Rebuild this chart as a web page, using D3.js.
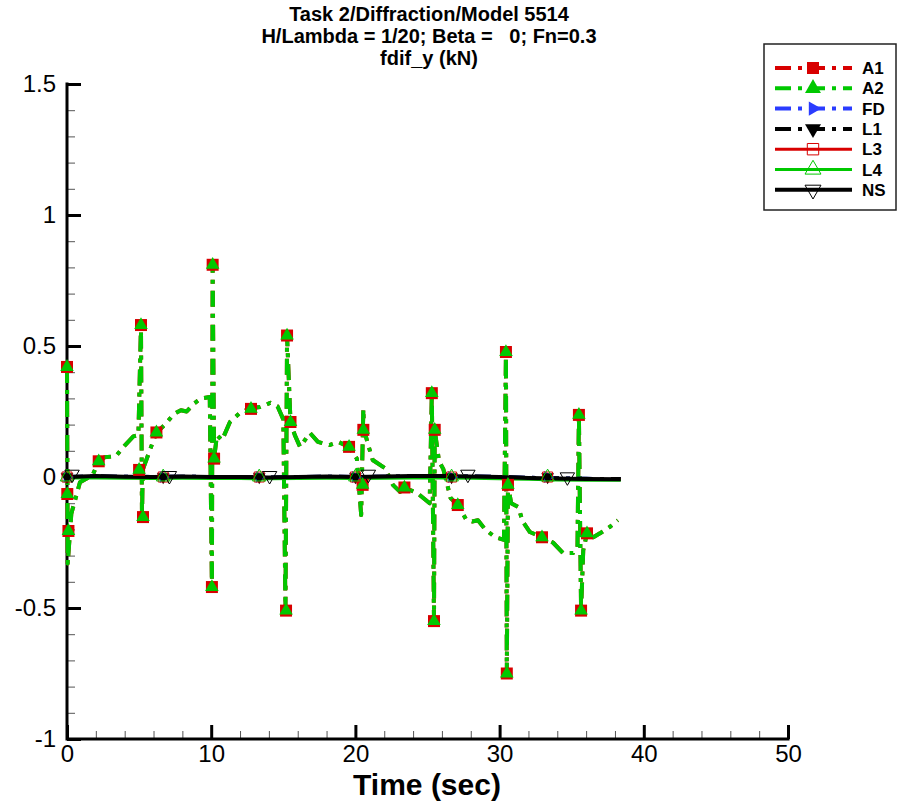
<!DOCTYPE html>
<html><head><meta charset="utf-8">
<script src="https://cdn.jsdelivr.net/npm/d3@7"></script>
<style>
html,body{margin:0;padding:0;background:#fff;}
text{font-family:"Liberation Sans",Arial,Helvetica,sans-serif;}
</style></head>
<body><svg id="c" width="901" height="805"></svg>
<script>
// ---------- DATA ----------
const titleLines = ["Task 2/Diffraction/Model 5514", "H/Lambda = 1/20; Beta =   0; Fn=0.3", "fdif_y (kN)"];
const xLabel = "Time (sec)";
const xMajorTicks = [0, 10, 20, 30, 40, 50];
const yMajorTicks = [-1, -0.5, 0, 0.5, 1, 1.5];
const yTickLabels = ["-1", "-0.5", "0", "0.5", "1", "1.5"];
const seriesNames = ["A1", "A2", "FD", "L1", "L3", "L4", "NS"];

// A1 / A2 (identical curves, A2 drawn on top)
const aTime = [0, 0.05, 0.3, 0.9, 1.4, 1.8, 2.2, 2.6, 3.4, 4.0, 4.6, 4.95, 5.13, 5.2, 5.25, 5.6, 6.2, 6.8, 7.4, 7.9, 8.3, 8.8, 9.3, 9.9,
  10.05, 10.1, 10.2, 10.4, 10.75, 11.3, 12.0, 12.76, 13.4, 14.1, 14.6, 15.0, 15.15, 15.26, 15.5, 15.8, 16.16, 16.85, 17.4, 18.2, 18.8, 19.56,
  20.1, 20.4, 20.55, 20.6, 20.9, 21.2, 22.05, 22.6, 23.1, 23.4, 24.3, 25.15, 25.3, 25.45, 25.5, 25.8, 26.1, 26.6, 27.1, 27.7, 28.1, 28.5, 29.0, 29.7,
  30.3, 30.44, 30.5, 30.58, 30.8, 31.3, 31.6, 32.1, 32.94, 33.7, 34.4, 35.1, 35.4, 35.5, 35.65, 35.8, 36.06, 36.5, 36.96, 37.66, 38.2];
const aValue = [0.42, -0.33, -0.14, -0.02, -0.005, 0.01, 0.06, 0.075, 0.08, 0.12, 0.155, 0.16, 0.58, -0.165, 0.027, 0.08, 0.17, 0.2, 0.24, 0.255, 0.25, 0.28, 0.3, 0.305,
  -0.42, 0.81, 0.07, 0.16, 0.14, 0.21, 0.245, 0.263, 0.267, 0.283, 0.27, 0.22, -0.51, 0.54, 0.21, 0.16, 0.115, 0.168, 0.134, 0.122, 0.134, 0.115,
  0.07, -0.145, 0.26, 0.18, 0.12, 0.065, 0.034, -0.03, -0.057, -0.04, -0.062, -0.1, 0.32, -0.55, 0.18, 0.06, 0.03, -0.08, -0.107, -0.164, -0.17, -0.165, -0.2, -0.23,
  -0.24, 0.477, -0.75, -0.03, -0.1, -0.115, -0.17, -0.21, -0.23, -0.25, -0.29, -0.29, -0.27, 0.237, -0.51, -0.28, -0.215, -0.23, -0.215, -0.19, -0.165];
const aMarkTime = [0, 0.02, 0.1, 2.2, 5.13, 5.0, 5.27, 6.2, 10.1, 10.2, 10.05, 12.76, 15.26, 15.5, 15.19, 19.56, 20.55, 20.5, 23.4, 25.3, 25.5, 25.45, 27.1, 30.44, 30.58, 30.5, 32.94, 35.5, 36.06, 35.65];
const aMarkValue = [0.42, -0.065, -0.206, 0.06, 0.58, 0.027, -0.153, 0.17, 0.81, 0.07, -0.42, 0.26, 0.54, 0.21, -0.51, 0.115, 0.18, -0.03, -0.04, 0.32, 0.18, -0.55, -0.107, 0.477, -0.03, -0.75, -0.23, 0.237, -0.215, -0.51];

// near-zero series
const flatTime = [0, 2, 4, 6, 8, 10, 12, 14, 16, 18, 20, 22, 24, 26, 28, 30, 32, 34, 36, 38.4];
const fdValue = [0.0, 0.002, 0.001, 0.0, 0.001, 0.0, 0.0, -0.002, 0.0, 0.001, 0.0, 0.001, 0.003, 0.003, 0.002, 0.0, -0.003, -0.005, -0.007, -0.008];
const l1Value = [0.0, 0.002, 0.001, 0.0, 0.001, 0.0, 0.0, -0.002, 0.0, 0.001, 0.0, 0.001, 0.003, 0.003, 0.002, 0.0, -0.003, -0.005, -0.007, -0.008];
const l3Value = [0.0, 0.001, 0.0, -0.001, 0.0, -0.001, -0.001, -0.003, -0.002, 0.0, -0.001, 0.0, 0.001, 0.001, 0.0, -0.002, -0.005, -0.007, -0.009, -0.01];
const l4Value = [-0.004, -0.004, -0.005, -0.006, -0.005, -0.006, -0.006, -0.007, -0.006, -0.005, -0.006, -0.005, -0.004, -0.004, -0.005, -0.007, -0.009, -0.011, -0.012, -0.012];
const nsValue = [0.0, 0.004, 0.001, 0.0, 0.002, 0.0, 0.0, -0.002, 0.0, 0.002, 0.0, 0.002, 0.004, 0.004, 0.002, 0.0, -0.004, -0.006, -0.008, -0.009];
const flatMarkTime = [0, 6.67, 13.33, 20, 26.67, 33.33];
const flatMarkValue = [0, 0, 0, 0, 0, 0];
const nsMarkTime = [0.35, 7.1, 14.05, 20.9, 27.8, 34.7];
const nsMarkValue = [0.01, 0.005, 0.005, 0.01, 0.01, 0.0];

// ---------- CHART ----------
const svg = d3.select("#c");
const x = d3.scaleLinear().domain([0, 50]).range([67, 788]);
const y = d3.scaleLinear().domain([-1, 1.5]).range([739, 84]);
const RED = "#d80000", GREEN = "#00c800", BLUE = "#2a3cff", BLACK = "#000";
const DASHDOT = "16,7,4,7";

// title
svg.append("g").selectAll("text").data(titleLines).join("text")
  .attr("x", 429).attr("y", (d, i) => 21 + i * 22)
  .attr("text-anchor", "middle").attr("font-size", 20).attr("font-weight", "bold")
  .style("white-space", "pre").attr("xml:space", "preserve").text(d => d);

// axes
const gx = svg.append("g").attr("transform", `translate(0,${y(-1)})`);
gx.call(d3.axisBottom(x).tickValues(d3.range(0, 51, 2).filter(v => v % 10 !== 0)).tickSize(-8).tickFormat(""))
  .call(g => g.selectAll(".tick line").attr("stroke", "#555").attr("stroke-width", 1))
  .call(g => g.select(".domain").remove());
const gx2 = svg.append("g").attr("transform", `translate(0,${y(-1)})`);
gx2.call(d3.axisBottom(x).tickValues(xMajorTicks).tickSize(-14).tickPadding(6).tickFormat(d3.format("d")))
  .call(g => g.selectAll(".tick line").attr("stroke", "#000").attr("stroke-width", 3))
  .call(g => g.select(".domain").remove())
  .call(g => g.selectAll("text").attr("font-size", 24).attr("font-family", "Liberation Sans, Arial, sans-serif").attr("fill", "#000"));

const gy = svg.append("g").attr("transform", `translate(${x(0)},0)`);
gy.call(d3.axisLeft(y).tickValues(d3.range(-10, 16, 1).filter(v => v % 5 !== 0).map(v => v / 10)).tickSize(-8).tickFormat(""))
  .call(g => g.selectAll(".tick line").attr("stroke", "#555").attr("stroke-width", 1))
  .call(g => g.select(".domain").remove());
const gy2 = svg.append("g").attr("transform", `translate(${x(0)},0)`);
gy2.call(d3.axisLeft(y).tickValues(yMajorTicks).tickSize(-14).tickPadding(11).tickFormat((d, i) => yTickLabels[i]))
  .call(g => g.selectAll(".tick line").attr("stroke", "#000").attr("stroke-width", 3))
  .call(g => g.select(".domain").remove())
  .call(g => g.selectAll("text").attr("font-size", 24).attr("font-family", "Liberation Sans, Arial, sans-serif").attr("fill", "#000"));

// spines
svg.append("path").attr("d", `M${x(0)},${y(1.5)}V${y(-1)}H${x(50)}`)
  .attr("fill", "none").attr("stroke", "#000").attr("stroke-width", 3).attr("stroke-linecap", "square");

svg.append("text").attr("x", 427).attr("y", 795).attr("text-anchor", "middle")
  .attr("font-size", 30).attr("font-weight", "bold").text(xLabel);

// helpers
const line = d3.line().x(d => x(d[0])).y(d => y(d[1]));
function drawLine(ts, vs, color, width, dash) {
  svg.append("path").datum(d3.zip(ts, vs)).attr("d", line)
    .attr("fill", "none").attr("stroke", color).attr("stroke-width", width)
    .attr("stroke-dasharray", dash || null).attr("stroke-linejoin", "round");
}
const sym = {
  square: d3.symbol().type(d3.symbolSquare),
  tri: d3.symbol().type(d3.symbolTriangle)
};
function drawMarkers(ts, vs, kind) {
  const [type, size, rot, fill, stroke, sw] = kind;
  svg.append("g").selectAll("path").data(d3.zip(ts, vs)).join("path")
    .attr("d", sym[type].size(size)())
    .attr("transform", d => `translate(${x(d[0])},${y(d[1])}) rotate(${rot})`)
    .attr("fill", fill).attr("stroke", stroke).attr("stroke-width", sw);
}
const kinds = {
  A1: ["square", 144, 0, RED, "none", 0],
  A2: ["tri", 80, 0, GREEN, "none", 0],
  FD: ["tri", 60, 90, BLUE, "none", 0],
  L1: ["tri", 70, 180, BLACK, "none", 0],
  L3: ["square", 100, 0, "none", RED, 1],
  L4: ["tri", 80, 0, "none", GREEN, 1],
  NS: ["tri", 90, 180, "none", BLACK, 1]
};
const legendKinds = {
  A1: ["square", 144, 0, RED, "none", 0],
  A2: ["tri", 110, 0, GREEN, "none", 0],
  FD: ["tri", 90, 90, BLUE, "none", 0],
  L1: ["tri", 110, 180, BLACK, "none", 0],
  L3: ["square", 130, 0, "none", RED, 1],
  L4: ["tri", 110, 0, "none", GREEN, 1],
  NS: ["tri", 110, 180, "none", BLACK, 1]
};
const styles = {
  A1: [RED, 4, DASHDOT], A2: [GREEN, 4, DASHDOT], FD: [BLUE, 4, DASHDOT], L1: [BLACK, 4, DASHDOT],
  L3: [RED, 3, null], L4: [GREEN, 3, null], NS: [BLACK, 4, null]
};

// lines
drawLine(aTime, aValue, ...styles.A1);
drawLine(aTime, aValue, ...styles.A2);
drawLine(flatTime, fdValue, ...styles.FD);
drawLine(flatTime, l1Value, ...styles.L1);
drawLine(flatTime, l3Value, ...styles.L3);
drawLine(flatTime, l4Value, ...styles.L4);
drawLine(flatTime, nsValue, ...styles.NS);
// markers
drawMarkers(aMarkTime, aMarkValue, kinds.A1);
drawMarkers(aMarkTime, aMarkValue, kinds.A2);
drawMarkers(flatMarkTime, flatMarkValue, kinds.FD);
drawMarkers(flatMarkTime, flatMarkValue, kinds.L1);
drawMarkers(flatMarkTime, flatMarkValue, kinds.L3);
drawMarkers(flatMarkTime, flatMarkValue, kinds.L4);
drawMarkers(nsMarkTime, nsMarkValue, kinds.NS);

// legend
const lg = svg.append("g");
lg.append("rect").attr("x", 764).attr("y", 44).attr("width", 132).attr("height", 166)
  .attr("fill", "#fff").attr("stroke", "#222").attr("stroke-width", 1.5);
seriesNames.forEach((name, i) => {
  const cy = 68 + i * 20.3;
  const [c, w, dash] = styles[name];
  lg.append("line").attr("x1", 775).attr("x2", 852).attr("y1", cy).attr("y2", cy)
    .attr("stroke", c).attr("stroke-width", w).attr("stroke-dasharray", dash);
  const [type, size, rot, fill, stroke, sw] = legendKinds[name];
  lg.append("path").attr("d", sym[type].size(size)())
    .attr("transform", `translate(813,${cy}) rotate(${rot})`)
    .attr("fill", fill).attr("stroke", stroke).attr("stroke-width", sw);
  lg.append("text").attr("x", 862).attr("y", cy).attr("dy", "0.36em")
    .attr("font-size", 17).attr("font-weight", "bold").text(name);
});
</script></body></html>
